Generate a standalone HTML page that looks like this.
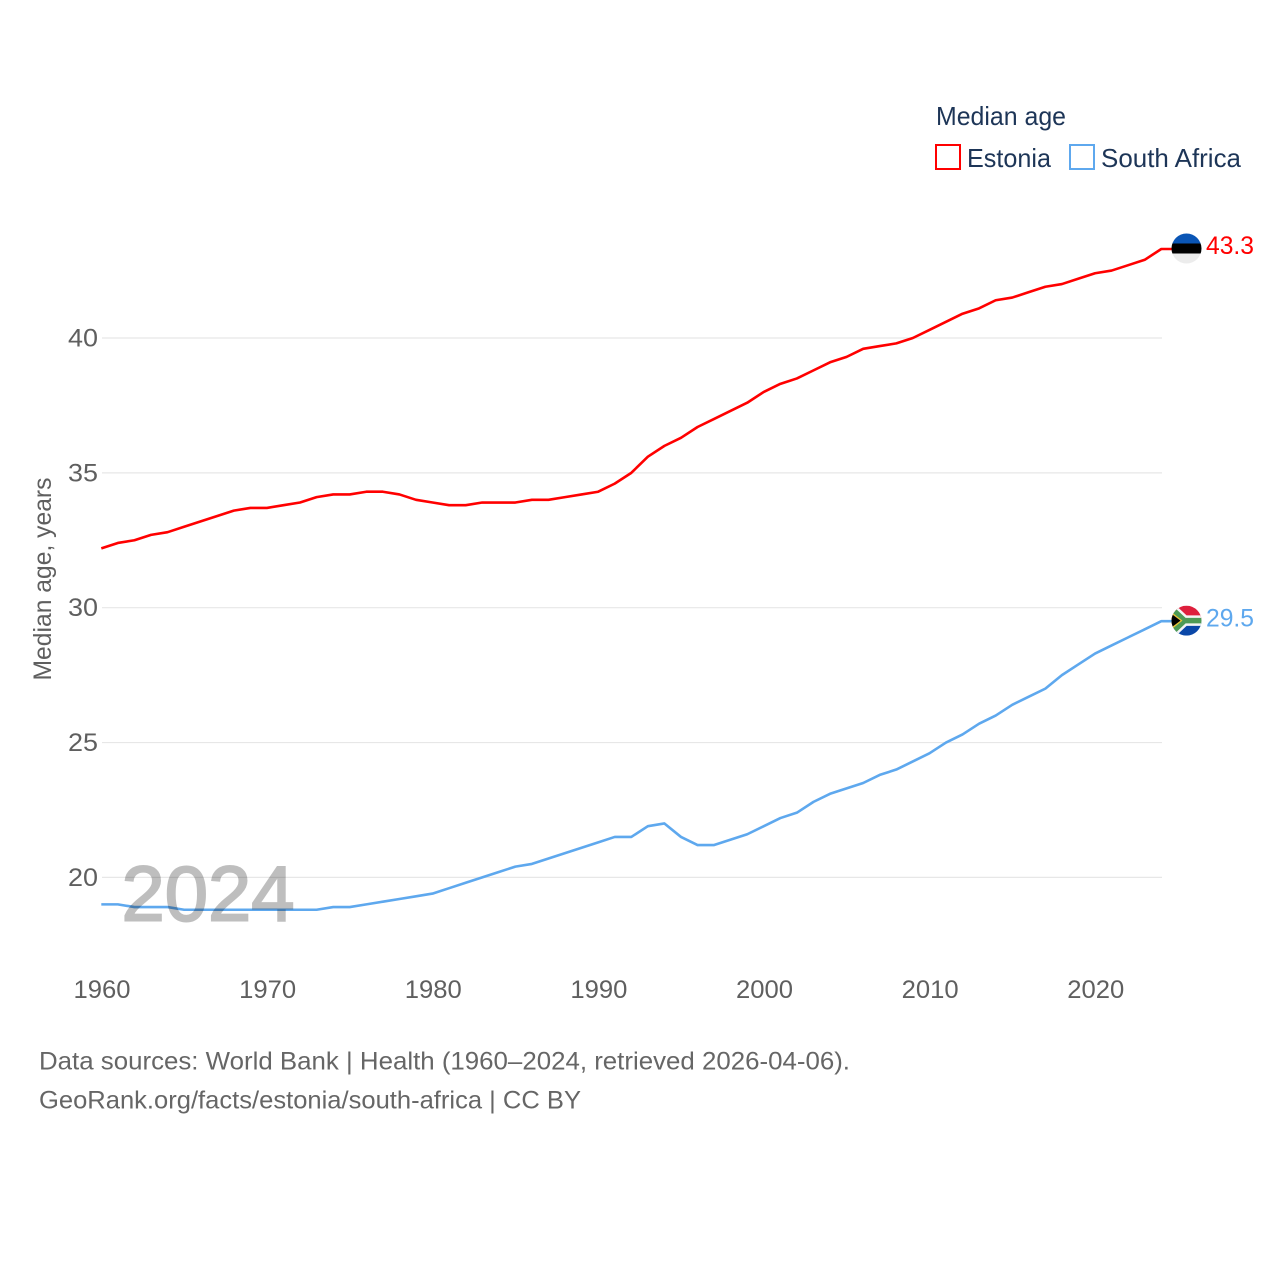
<!DOCTYPE html>
<html lang="en">
<head>
<meta charset="utf-8">
<title>Median age: Estonia and South Africa</title>
<style>
html,body{margin:0;padding:0;background:#fff;width:1280px;height:1280px;overflow:hidden}
svg{display:block}
text{font-family:"Liberation Sans",sans-serif}
</style>
</head>
<body>
<svg id="chart" xmlns="http://www.w3.org/2000/svg" width="1280" height="1280" viewBox="0 0 1280 1280">
  <defs>
    <clipPath id="clip-ee"><circle id="clip-ee-circle" r="15"></circle></clipPath>
    <clipPath id="clip-za"><circle id="clip-za-circle" r="15"></circle></clipPath>
  </defs>
  <g id="grid"></g>
  <g id="yticks"></g>
  <g id="xticks"></g>
  <text transform="translate(51,579) rotate(-90)" text-anchor="middle" font-size="25" fill="#5f5f5f" textLength="203" lengthAdjust="spacingAndGlyphs">Median age, years</text>
  <g id="series"></g>
  <text x="121.5" y="920.5" font-size="78" fill="#000" stroke="#000" stroke-width="2" opacity="0.25" textLength="173" lengthAdjust="spacingAndGlyphs">2024</text>
  <g id="flag-ee" clip-path="url(#clip-ee)"></g>
  <g id="flag-za" clip-path="url(#clip-za)"></g>
  <g id="end-labels"></g>
  <g>
    <text x="936" y="125" font-size="26" fill="#1d3557" textLength="130" lengthAdjust="spacingAndGlyphs">Median age</text>
    <rect x="936" y="145" width="24" height="24" fill="none" stroke="#ff0000" stroke-width="2"></rect>
    <text x="967" y="167" font-size="26" fill="#1d3557" textLength="84" lengthAdjust="spacingAndGlyphs">Estonia</text>
    <rect x="1070" y="145" width="24" height="24" fill="none" stroke="#5ea8ee" stroke-width="2"></rect>
    <text x="1101" y="167" font-size="26" fill="#1d3557" textLength="140" lengthAdjust="spacingAndGlyphs">South Africa</text>
  </g>
  <g>
    <text x="39" y="1069.5" font-size="25" fill="#666" textLength="811" lengthAdjust="spacingAndGlyphs">Data sources: World Bank | Health (1960–2024, retrieved 2026-04-06).</text>
    <text x="39" y="1108.5" font-size="25" fill="#666" textLength="542" lengthAdjust="spacingAndGlyphs">GeoRank.org/facts/estonia/south-africa | CC BY</text>
  </g>
</svg>
<script>
const years = [1960,1961,1962,1963,1964,1965,1966,1967,1968,1969,1970,1971,1972,1973,1974,1975,1976,1977,1978,1979,1980,1981,1982,1983,1984,1985,1986,1987,1988,1989,1990,1991,1992,1993,1994,1995,1996,1997,1998,1999,2000,2001,2002,2003,2004,2005,2006,2007,2008,2009,2010,2011,2012,2013,2014,2015,2016,2017,2018,2019,2020,2021,2022,2023,2024];
const estonia = [32.2,32.4,32.5,32.7,32.8,33.0,33.2,33.4,33.6,33.7,33.7,33.8,33.9,34.1,34.2,34.2,34.3,34.3,34.2,34.0,33.9,33.8,33.8,33.9,33.9,33.9,34.0,34.0,34.1,34.2,34.3,34.6,35.0,35.6,36.0,36.3,36.7,37.0,37.3,37.6,38.0,38.3,38.5,38.8,39.1,39.3,39.6,39.7,39.8,40.0,40.3,40.6,40.9,41.1,41.4,41.5,41.7,41.9,42.0,42.2,42.4,42.5,42.7,42.9,43.3];
const southAfrica = [19.0,19.0,18.9,18.9,18.9,18.8,18.8,18.8,18.8,18.8,18.8,18.8,18.8,18.8,18.9,18.9,19.0,19.1,19.2,19.3,19.4,19.6,19.8,20.0,20.2,20.4,20.5,20.7,20.9,21.1,21.3,21.5,21.5,21.9,22.0,21.5,21.2,21.2,21.4,21.6,21.9,22.2,22.4,22.8,23.1,23.3,23.5,23.8,24.0,24.3,24.6,25.0,25.3,25.7,26.0,26.4,26.7,27.0,27.5,27.9,28.3,28.6,28.9,29.2,29.5];
const yTickValues = [20,25,30,35,40];
const xTickValues = [1960,1970,1980,1990,2000,2010,2020];

const NS = 'http://www.w3.org/2000/svg';
function xScale(year){ return 101.3 + (year - 1960) * 16.5625; }
function yScale(v){ return 338 + (40 - v) * 26.97; }
function mk(parent, tag, attrs, text){
  const el = document.createElementNS(NS, tag);
  for (const k in attrs) el.setAttribute(k, attrs[k]);
  if (text !== undefined) el.textContent = text;
  parent.appendChild(el);
  return el;
}
const gridG = document.getElementById('grid');
const yG = document.getElementById('yticks');
const xG = document.getElementById('xticks');
const seriesG = document.getElementById('series');
const labelG = document.getElementById('end-labels');

yTickValues.forEach(function(v){
  const line = mk(gridG, 'line', {x1:102, x2:1162, y1:yScale(v), y2:yScale(v), stroke:'#e7e7e7', 'stroke-width':1.2});
  
  
  const t = mk(yG, 'text', {x:98, y:yScale(v)+8.5, 'text-anchor':'end', 'font-size':25, fill:'#5f5f5f', textLength:30, lengthAdjust:'spacingAndGlyphs'}, String(v));
  
  
});
xTickValues.forEach(function(v){
  const t = mk(xG, 'text', {x:102 + (v - 1960) * 16.5625, y:998, 'text-anchor':'middle', 'font-size':25, fill:'#5f5f5f', textLength:57, lengthAdjust:'spacingAndGlyphs'}, String(v));
  
  
});
function linePath(values){
  let d = '';
  values.forEach(function(v, i){ d += (i ? 'L' : 'M') + xScale(years[i]).toFixed(2) + ' ' + yScale(v).toFixed(2); });
  d += 'H1172';
  return d;
}
const redLine = mk(seriesG, 'path', {d:linePath(estonia), fill:'none', stroke:'#ff0000', 'stroke-width':2.6, 'stroke-linejoin':'round'});


const blueLine = mk(seriesG, 'path', {d:linePath(southAfrica), fill:'none', stroke:'#5ea8ee', 'stroke-width':2.6, 'stroke-linejoin':'round'});



const eeVal = estonia[estonia.length-1];
const zaVal = southAfrica[southAfrica.length-1];
const eeY = yScale(eeVal);
const zaY = yScale(zaVal);
const flagX = 1186.5;

const cEE = document.getElementById('clip-ee-circle');
cEE.setAttribute('cx', flagX);
cEE.setAttribute('cy', eeY - 0.5);
const cZA = document.getElementById('clip-za-circle');
cZA.setAttribute('cx', flagX);
cZA.setAttribute('cy', zaY - 0.5);

const flagEE = document.getElementById('flag-ee');
const eeTop = eeY - 15.5;
mk(flagEE, 'rect', {x:flagX-15, y:eeTop, width:30, height:10, fill:'#0a55b5'});
mk(flagEE, 'rect', {x:flagX-15, y:eeTop+10, width:30, height:10, fill:'#000'});
mk(flagEE, 'rect', {x:flagX-15, y:eeTop+20, width:30, height:10, fill:'#ececec'});

const flagZA = document.getElementById('flag-za');
const zaMid = zaY - 0.5;
const zaL = flagX - 15;
const zaR = flagX + 15;
const zaY1 = 'M'+(zaL-4)+' '+(zaMid-16)+'L'+(zaL+13)+' '+zaMid+'L'+(zaL-4)+' '+(zaMid+16)+'M'+(zaL+13)+' '+zaMid+'H'+zaR;
mk(flagZA, 'rect', {x:zaL, y:zaMid-15, width:30, height:15, fill:'#de1f3c'});
mk(flagZA, 'rect', {x:zaL, y:zaMid, width:30, height:15, fill:'#0a47a8'});
mk(flagZA, 'path', {d:zaY1, fill:'none', stroke:'#f4f4f4', 'stroke-width':10.5});
mk(flagZA, 'path', {d:zaY1, fill:'none', stroke:'#4d9a55', 'stroke-width':5.5});
mk(flagZA, 'path', {d:'M'+(zaL-1)+' '+(zaMid-9.5)+'L'+(zaL+11)+' '+zaMid+'L'+(zaL-1)+' '+(zaMid+9.5)+'Z', fill:'#e8c43a'});
mk(flagZA, 'path', {d:'M'+(zaL-1)+' '+(zaMid-7.5)+'L'+(zaL+9)+' '+zaMid+'L'+(zaL-1)+' '+(zaMid+7.5)+'Z', fill:'#000'});

const lblEE = mk(labelG, 'text', {x:1206, y:eeY+5, 'font-size':25, fill:'#ff0000', textLength:48, lengthAdjust:'spacingAndGlyphs'}, eeVal.toFixed(1));


const lblZA = mk(labelG, 'text', {x:1206, y:zaY+5.5, 'font-size':25, fill:'#5ea8ee', textLength:48, lengthAdjust:'spacingAndGlyphs'}, zaVal.toFixed(1));


</script>
</body>
</html>
